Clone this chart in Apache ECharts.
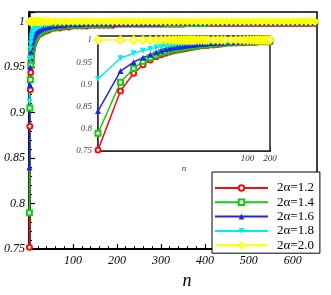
<!DOCTYPE html>
<html><head><meta charset="utf-8">
<script src="https://cdn.jsdelivr.net/npm/echarts@6/dist/echarts.min.js"></script>
<style>html,body{margin:0;padding:0;background:#fff}#c{width:331px;height:295px}</style>
</head><body><div id="c"></div><script>
// n values (shared by main plot and inset)
const nValues = [1,2,3,4,5,6,7,8,9,10,11,12,13,14,15,16,17,18,19,20,
  22,24,26,28,30,35,40,45,50,
  60,70,80,90,100,110,120,130,140,150,160,170,180,190,200,
  210,220,230,240,250,260,270,280,290,300,310,320,330,340,350,
  360,370,380,390,400,410,420,430,440,450,460,470,480,490,500,
  510,520,530,540,550,560,570,580,590,600,610,620,630,640,650];

const seriesNames = ['2α=1.2','2α=1.4','2α=1.6','2α=1.8','2α=2.0'];

const vals12 = [0.752,0.885,0.925,0.944,0.955,0.962,0.967,0.970,0.973,0.975,0.977,0.978,0.979,0.980,0.981,0.982,0.983,0.984,0.984,0.985,
  0.986,0.987,0.987,0.988,0.988,0.989,0.990,0.991,0.992,
  0.993,0.993,0.994,0.994,0.995,0.995,0.995,0.995,0.996,0.996,0.996,0.996,0.996,0.996,0.997,
  0.997,0.997,0.997,0.997,0.997,0.997,0.997,0.997,0.997,0.997,0.997,0.997,0.997,0.997,0.997,
  0.998,0.998,0.998,0.998,0.998,0.998,0.998,0.998,0.998,0.998,0.998,0.998,0.998,0.998,0.998,
  0.998,0.998,0.998,0.998,0.998,0.998,0.998,0.998,0.998,0.998,0.998,0.998,0.998,0.998,0.998];

const vals14 = [0.790,0.905,0.936,0.952,0.960,0.966,0.971,0.974,0.977,0.979,0.980,0.981,0.982,0.983,0.984,0.985,0.986,0.986,0.987,0.987,
  0.988,0.989,0.989,0.990,0.990,0.991,0.992,0.993,0.993,
  0.994,0.995,0.995,0.996,0.996,0.996,0.996,0.997,0.997,0.997,0.997,0.997,0.997,0.998,0.998,
  0.998,0.998,0.998,0.998,0.998,0.998,0.998,0.998,0.998,0.998,0.998,0.998,0.998,0.998,0.998,
  0.998,0.998,0.998,0.998,0.998,0.999,0.999,0.999,0.999,0.999,0.999,0.999,0.999,0.999,0.999,
  0.999,0.999,0.999,0.999,0.999,0.999,0.999,0.999,0.999,0.999,0.999,0.999,0.999,0.999,0.999];

const vals16 = [0.840,0.930,0.950,0.960,0.967,0.972,0.976,0.979,0.981,0.983,0.984,0.985,0.986,0.987,0.988,0.988,0.989,0.989,0.990,0.990,
  0.991,0.991,0.992,0.992,0.993,0.993,0.994,0.994,0.995,
  0.995,0.996,0.996,0.997,0.997,0.997,0.997,0.998,0.998,0.998,0.998,0.998,0.998,0.998,0.998,
  0.998,0.998,0.998,0.998,0.998,0.998,0.998,0.998,0.998,0.998,0.999,0.999,0.999,0.999,0.999,
  0.999,0.999,0.999,0.999,0.999,0.999,0.999,0.999,0.999,0.999,0.999,0.999,0.999,0.999,0.999,
  0.999,0.999,0.999,0.999,0.999,0.999,0.999,0.999,0.999,0.999,0.999,0.999,0.999,0.999,0.999];

const vals18 = [0.912,0.959,0.970,0.976,0.980,0.983,0.985,0.987,0.988,0.989,0.990,0.991,0.991,0.992,0.992,0.993,0.993,0.993,0.994,0.994,
  0.994,0.995,0.995,0.995,0.996,0.996,0.996,0.997,0.997,
  0.997,0.998,0.998,0.998,0.998,0.998,0.999,0.999,0.999,0.999,0.999,0.999,0.999,0.999,0.999,
  0.999,0.999,0.999,0.999,0.999,0.999,0.999,0.999,0.999,0.999,0.999,0.999,0.999,0.999,0.999,
  0.999,0.999,0.999,0.999,0.999,0.999,0.999,0.999,0.999,0.999,0.999,0.999,0.999,0.999,0.999,
  0.999,0.999,0.999,0.999,0.999,0.999,0.999,0.999,0.999,0.999,0.999,0.999,0.999,0.999,0.999];

const vals20 = [1,1,1,1,1,1,1,1,1,1,1,1,1,1,1,1,1,1,1,1,
  1,1,1,1,1,1,1,1,1,
  1,1,1,1,1,1,1,1,1,1,1,1,1,1,1,
  1,1,1,1,1,1,1,1,1,1,1,1,1,1,1,
  1,1,1,1,1,1,1,1,1,1,1,1,1,1,1,
  1,1,1,1,1,1,1,1,1,1,1,1,1,1,1];

const mainXTickLabels = [100,200,300,400,500,600];
const insetXTickLabels = [100,200];

const allVals = [vals12, vals14, vals16, vals18, vals20];
const styles = [
  {color:'#ee1111', symbol:'emptyCircle', size:5, bw:1.2},
  {color:'#11cc11', symbol:'emptyRect', size:5, bw:1.2},
  {color:'#2222ee', symbol:'triangle', size:6, bw:0},
  {color:'#00eeee', symbol:'path://M0,0L10,0L5,9Z', size:6, bw:0},
  {color:'#ffff00', symbol:'emptyDiamond', size:7, bw:2}
];

const serif = 'Liberation Serif';
function yFmt(v){
  const k = v*20;
  if (Math.abs(k - Math.round(k)) > 1e-6) return '';
  return String(Math.round(v*100)/100);
}

const series = [];
// inset series first (legend takes its icon style from the first series of each name)
[1,0].forEach(function(g){
  allVals.forEach(function(vals, i){
    const st = styles[i];
    let sym = st.symbol, size = st.size, bw = st.bw;
    if (g === 0 && i === 4) { sym = 'diamond'; size = 9; bw = 0; }
    series.push({
      name: seriesNames[i], type:'line', xAxisIndex:g, yAxisIndex:g,
      data: nValues.map(function(n, j){ return [n, vals[j]]; }),
      symbol: sym, symbolSize: size, showAllSymbol:true,
      lineStyle:{color:st.color, width:1.5},
      itemStyle:{color:st.color, borderColor:st.color, borderWidth:bw},
      animation:false, z: 2 + g*3
    });
  });
});

const chart = echarts.init(document.getElementById('c'), null, {renderer:'canvas'});
chart.setOption({
  animation:false,
  backgroundColor:'#fff',
  grid:[
    {left:29, top:12, width:288, height:246, show:true, borderColor:'#000', borderWidth:1.5, backgroundColor:'transparent'},
    {left:98, top:36, width:172, height:115, show:true, borderColor:'#222', borderWidth:1.5, backgroundColor:'#fff', z:3}
  ],
  xAxis:[
    {type:'value', gridIndex:0, min:0, max:655, interval:100,
     name:'n', nameLocation:'middle', nameGap:17,
     nameTextStyle:{fontFamily:serif, fontStyle:'italic', fontSize:18, color:'#000', padding:[0,0,0,28]},
     axisLine:{lineStyle:{color:'#000', width:2}},
     axisTick:{inside:true, length:5, lineStyle:{color:'#000', width:1.2}},
     minorTick:{show:true, splitNumber:5, length:3, lineStyle:{color:'#000', width:1}},
     splitLine:{show:false},
     axisLabel:{fontFamily:serif, fontStyle:'italic', fontSize:12, color:'#000', margin:6,
       formatter:function(v){ return mainXTickLabels.indexOf(Math.round(v))>=0 && Math.abs(v-Math.round(v))<1e-6 ? String(Math.round(v)) : ''; }}
    },
    {type:'log', gridIndex:1, min:1, max:200, logBase:10,
     name:'n', nameLocation:'middle', nameGap:5,
     nameTextStyle:{fontFamily:serif, fontStyle:'italic', fontSize:9, color:'#333'},
     axisLine:{lineStyle:{color:'#444', width:1.8}},
     axisTick:{inside:true, length:4, lineStyle:{color:'#444'}},
     splitLine:{show:false},
     axisLabel:{fontFamily:serif, fontStyle:'italic', fontSize:9, color:'#333', margin:3,
       formatter:function(v){ const r=Math.round(v); return (insetXTickLabels.indexOf(r)>=0 && Math.abs(v-r)<1e-3) ? String(r) : ''; }}
    }
  ],
  yAxis:[
    {type:'value', gridIndex:0, min:0.75, max:1.0105, interval:0.05,
     axisLine:{lineStyle:{color:'#000', width:2.5}},
     axisTick:{inside:true, length:6, lineStyle:{color:'#000', width:1.2}},
     minorTick:{show:true, splitNumber:5, length:3, lineStyle:{color:'#000', width:1}},
     splitLine:{show:false},
     axisLabel:{fontFamily:serif, fontStyle:'italic', fontSize:12, color:'#000', margin:4, formatter:yFmt}
    },
    {type:'value', gridIndex:1, min:0.75, max:1.009, interval:0.05,
     axisLine:{lineStyle:{color:'#777', width:2}},
     axisTick:{inside:true, length:4, lineStyle:{color:'#555'}},
     minorTick:{show:true, splitNumber:5, length:2, lineStyle:{color:'#777'}},
     splitLine:{show:false},
     axisLabel:{fontFamily:serif, fontStyle:'italic', fontSize:9, color:'#444', margin:6, formatter:yFmt}
    }
  ],
  legend:{
    orient:'vertical', left:212, top:172, selectedMode:false,
    data: seriesNames,
    itemWidth:53, itemHeight:7, itemGap:0.3,
    padding:[9,6,1,2],
    backgroundColor:'#fff', borderColor:'#000', borderWidth:1,
    textStyle:{fontFamily:serif, fontSize:13, color:'#000', lineHeight:14, padding:[0,0,0,4]}
  },
  series: series
});
</script></body></html>
